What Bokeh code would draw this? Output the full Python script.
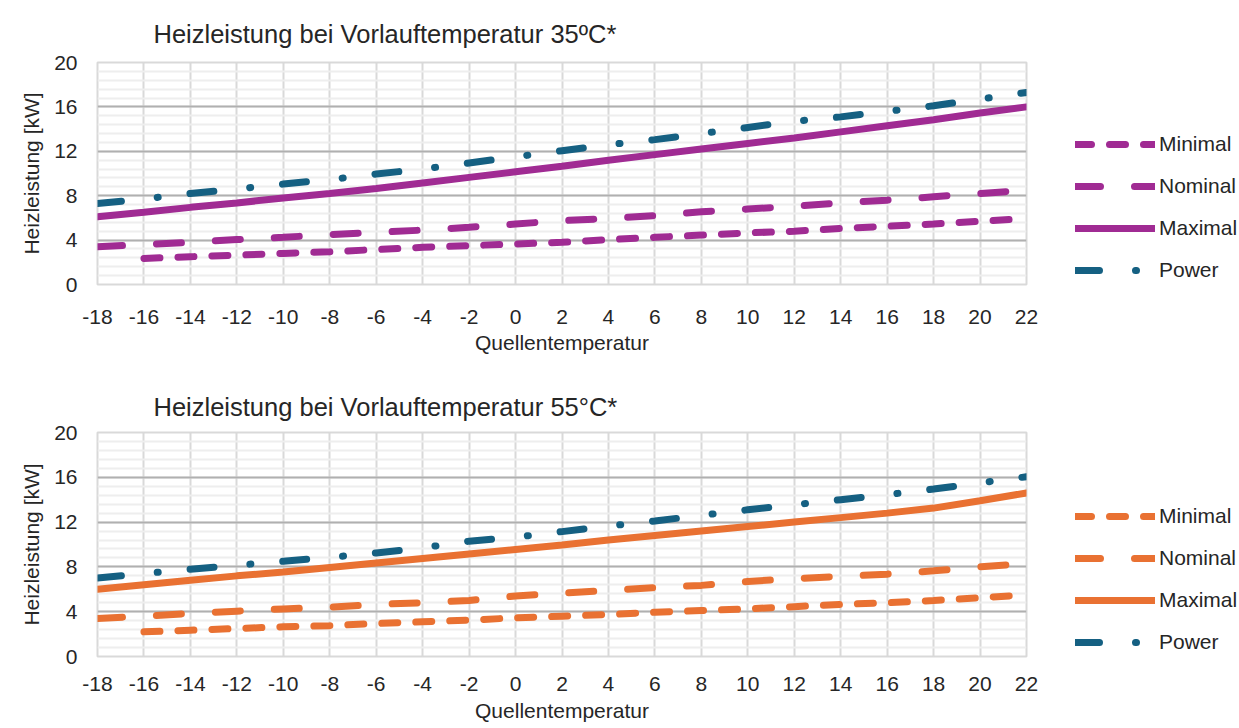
from bokeh.plotting import figure
from bokeh.models import Range1d, FixedTicker, Legend, LegendItem
from bokeh.layouts import column
from bokeh.embed import file_html
from bokeh.resources import INLINE

# ---------------- data ----------------
temps = [-18, -16, -14, -12, -10, -8, -6, -4, -2, 0, 2, 4, 6, 8, 10, 12, 14, 16, 18, 20, 22]
temps_min = [-16, -14, -12, -10, -8, -6, -4, -2, 0, 2, 4, 6, 8, 10, 12, 14, 16, 18, 20, 22]

x_ticks = [-18, -16, -14, -12, -10, -8, -6, -4, -2, 0, 2, 4, 6, 8, 10, 12, 14, 16, 18, 20, 22]
y_ticks = [0, 4, 8, 12, 16, 20]

# Vorlauftemperatur 35 °C
top_minimal = [2.35, 2.5, 2.65, 2.8, 2.95, 3.15, 3.35, 3.5, 3.65, 3.8, 4.05, 4.25, 4.45, 4.65, 4.8, 5.05, 5.25, 5.45, 5.7, 5.95]
top_nominal = [3.4, 3.6, 3.8, 4.05, 4.25, 4.5, 4.7, 4.9, 5.15, 5.45, 5.75, 5.95, 6.2, 6.55, 6.8, 7.05, 7.35, 7.6, 7.9, 8.2, 8.5]
top_maximal = [6.1, 6.5, 6.95, 7.35, 7.8, 8.2, 8.65, 9.15, 9.65, 10.15, 10.65, 11.2, 11.7, 12.2, 12.7, 13.2, 13.75, 14.3, 14.85, 15.45, 16.0]
top_power = [7.3, 7.7, 8.2, 8.6, 9.05, 9.45, 9.95, 10.4, 10.95, 11.5, 12.05, 12.6, 13.05, 13.6, 14.15, 14.7, 15.1, 15.6, 16.1, 16.7, 17.3]

# Vorlauftemperatur 55 °C
bot_minimal = [2.2, 2.35, 2.5, 2.65, 2.75, 2.95, 3.1, 3.25, 3.45, 3.6, 3.75, 3.95, 4.1, 4.25, 4.45, 4.65, 4.8, 5.0, 5.25, 5.5]
bot_nominal = [3.4, 3.6, 3.85, 4.05, 4.25, 4.4, 4.65, 4.8, 5.0, 5.4, 5.65, 5.9, 6.15, 6.35, 6.7, 6.95, 7.15, 7.35, 7.65, 8.0, 8.3]
bot_maximal = [6.0, 6.4, 6.8, 7.2, 7.55, 7.95, 8.35, 8.75, 9.15, 9.55, 9.95, 10.4, 10.8, 11.2, 11.6, 12.0, 12.4, 12.8, 13.25, 13.9, 14.6]
bot_power = [7.0, 7.4, 7.8, 8.15, 8.5, 8.85, 9.25, 9.7, 10.3, 10.65, 11.15, 11.65, 12.1, 12.6, 13.1, 13.55, 14.0, 14.45, 14.95, 15.5, 16.05]

series_names = ["Minimal", "Nominal", "Maximal", "Power"]

PURPLE = "#A02B93"
ORANGE = "#E97132"
BLUE = "#156082"
FONT = "'Liberation Sans', Arial, sans-serif"
TXT = "#262626"

minor_y = [round(i * 0.8, 2) for i in range(26)]


def make_fig(title, minimal, nominal, maximal, power, color, height, top_border,
             bottom_border, title_standoff, x_standoff, label_standoff, frame_h):
    p = figure(width=1231, height=height, output_backend="svg", toolbar_location=None,
               x_range=Range1d(-18, 22), y_range=Range1d(0, 20),
               frame_width=929, frame_height=frame_h,
               min_border_left=97, min_border_right=205,
               min_border_top=top_border, min_border_bottom=bottom_border,
               title=title)
    p.title.text_font = FONT
    p.title.text_font_size = "25.5px"
    p.title.text_font_style = "normal"
    p.title.text_color = TXT
    p.title.align = "left"
    p.title.offset = 56
    p.title.standoff = title_standoff

    p.xaxis.ticker = FixedTicker(ticks=x_ticks)
    p.yaxis.ticker = FixedTicker(ticks=y_ticks, minor_ticks=minor_y)
    p.xaxis.major_label_overrides = {t: str(t) for t in x_ticks}
    for ax in (p.xaxis[0], p.yaxis[0]):
        ax.axis_line_color = None
        ax.major_tick_line_color = None
        ax.minor_tick_line_color = None
        ax.major_tick_out = 0
        ax.minor_tick_out = 0
        ax.major_label_text_font = FONT
        ax.major_label_text_font_size = "21px"
        ax.major_label_text_color = TXT
        ax.axis_label_text_font = FONT
        ax.axis_label_text_font_size = "21px"
        ax.axis_label_text_font_style = "normal"
        ax.axis_label_text_color = TXT
    p.xaxis.axis_label = "Quellentemperatur"
    p.yaxis.axis_label = "Heizleistung [kW]"
    p.xaxis.major_label_standoff = x_standoff
    p.xaxis.axis_label_standoff = label_standoff
    p.yaxis.major_label_standoff = 20
    p.yaxis.axis_label_standoff = 8

    p.xgrid.grid_line_color = "#d9d9d9"
    p.xgrid.grid_line_width = 2
    p.ygrid.grid_line_color = "#b0b0b0"
    p.ygrid.grid_line_width = 2
    p.ygrid.minor_grid_line_color = "#eeeeee"
    p.ygrid.minor_grid_line_width = 2
    p.outline_line_color = "#d9d9d9"
    p.outline_line_width = 2
    p.background_fill_color = "white"
    p.border_fill_color = "white"

    lw = 7
    r_min = p.line(temps_min, minimal, line_color=color, line_width=lw, line_cap="round",
                   line_dash="16 18")
    r_nom = p.line(temps, nominal, line_color=color, line_width=lw, line_cap="round",
                   line_dash="25 34")
    r_max = p.line(temps, maximal, line_color=color, line_width=lw, line_cap="round")
    r_pow = p.line(temps, power, line_color=BLUE, line_width=lw, line_cap="round",
                   line_dash="24 36 1 32")

    items = [LegendItem(label=n, renderers=[r]) for n, r in
             zip(series_names, [r_min, r_nom, r_max, r_pow])]
    leg = Legend(items=items, location=(49, -7), orientation="vertical",
                 glyph_width=80, glyph_height=42, label_height=42, label_standoff=4,
                 spacing=0, padding=0, margin=0, border_line_color=None,
                 background_fill_alpha=0, label_text_font=FONT,
                 label_text_font_size="21px", label_text_color=TXT)
    p.add_layout(leg, "right")
    return p


p1 = make_fig("Heizleistung bei Vorlauftemperatur 35ºC*", top_minimal, top_nominal,
              top_maximal, top_power, PURPLE, 364, 62, 80, 30, 25, 4, 222)
p2 = make_fig("Heizleistung bei Vorlauftemperatur 55°C*", bot_minimal, bot_nominal,
              bot_maximal, bot_power, ORANGE, 362, 68, 70, 24, 20, 5, 224)

layout = column(p1, p2, spacing=0)
open("out.html", "w").write(file_html(layout, INLINE))
